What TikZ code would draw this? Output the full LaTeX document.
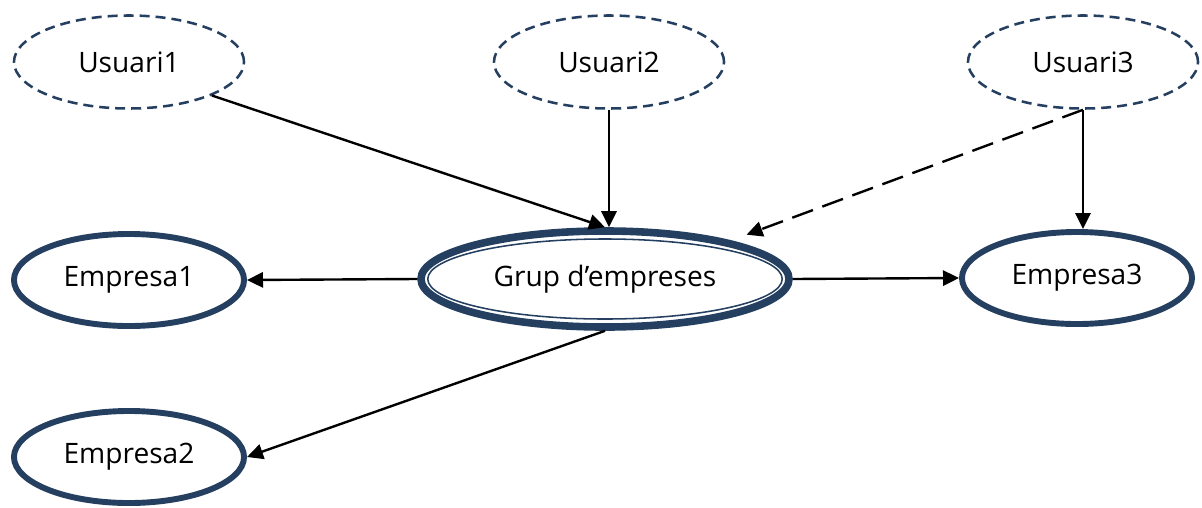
\documentclass[tikz,border=0pt]{standalone}
\usepackage{fontspec}
\setmainfont{Open Sans}
\usepackage{xcolor}
\usetikzlibrary{shapes.geometric,arrows.meta}
\definecolor{navy}{HTML}{243F60}

\begin{document}
\begin{tikzpicture}[x=0.025cm, y=-0.025cm,
  font=\fontsize{20}{24}\selectfont,
  usuari/.style={ellipse, draw=navy, line width=1.8pt, dash pattern=on 0.25cm off 0.15cm,
    minimum width=5.75cm, minimum height=2.325cm},
  empresa/.style={ellipse, draw=navy, line width=4.2pt, minimum width=5.75cm, minimum height=2.3cm},
  grup/.style={ellipse, draw=navy, line width=5.4pt, minimum width=9.2cm, minimum height=2.4cm},
  fletxa/.style={line width=1.7pt, -{Triangle[length=0.4cm, width=0.38cm]}}]
\useasboundingbox (0,0) rectangle (1202,507);
% Usuaris
\node[usuari] (usuari1) at (129,62) {Usuari1};
\node[usuari] (usuari2) at (609,62) {Usuari2};
\node[usuari] (usuari3) at (1083,62) {Usuari3};
% Empreses
\node[grup] (grup) at (605,279) {Grup d’empreses};
\draw[navy, line width=1.1pt] (grup.center) ellipse [x radius=4.43cm, y radius=1.0cm];
\node[empresa] (empresa1) at (129,280) {Empresa1};
\node[empresa] (empresa2) at (129,457) {Empresa2};
\node[empresa] (empresa3) at (1077,278) {Empresa3};
% Fletxes
\draw[fletxa] (usuari1.-22) -- (grup.north);
\draw[fletxa] (usuari2.south) -- (usuari2.south |- grup.north);
\draw[fletxa] (usuari3.south) -- (usuari3.south |- empresa3.north);
\draw[fletxa, dash pattern=on 0.55cm off 0.25cm, shorten >=0.42cm] (usuari3.south) -- (grup.17);
\draw[fletxa] (grup.west) -- (empresa1.east);
\draw[fletxa] (grup.east) -- (empresa3.west);
\draw[fletxa] (grup.south) -- (empresa2.east);
\end{tikzpicture}
\end{document}
